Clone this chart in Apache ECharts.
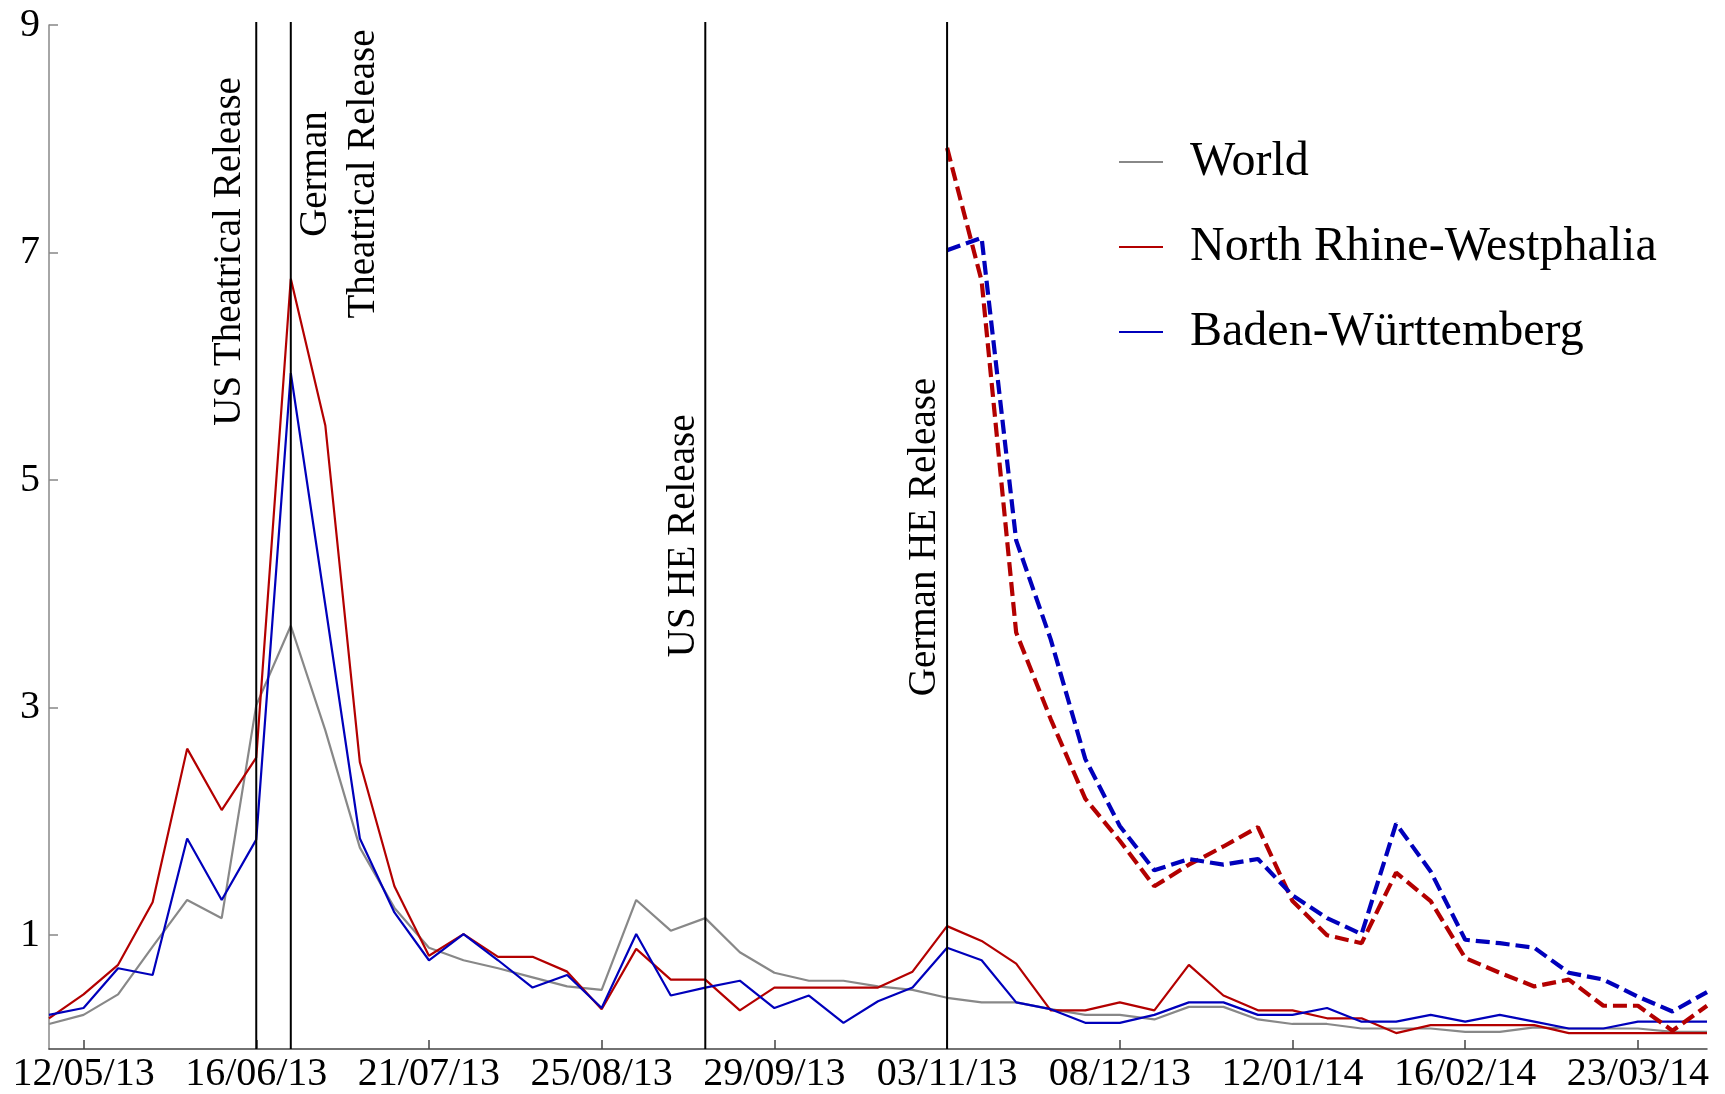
<!DOCTYPE html>
<html>
<head>
<meta charset="utf-8">
<script src="https://cdn.jsdelivr.net/npm/echarts@6/dist/echarts.min.js"></script>
<style>
  html, body { margin: 0; padding: 0; background: #fff; }
  #chart { width: 1725px; height: 1094px; }
</style>
</head>
<body>
<div id="chart"></div>
<script>
// ---------------- DATA ----------------
const categories = [
  '05/05/13','12/05/13','19/05/13','26/05/13','02/06/13','09/06/13','16/06/13','23/06/13','30/06/13','07/07/13',
  '14/07/13','21/07/13','28/07/13','04/08/13','11/08/13','18/08/13','25/08/13','01/09/13','08/09/13','15/09/13',
  '22/09/13','29/09/13','06/10/13','13/10/13','20/10/13','27/10/13','03/11/13','10/11/13','17/11/13','24/11/13',
  '01/12/13','08/12/13','15/12/13','22/12/13','29/12/13','05/01/14','12/01/14','19/01/14','26/01/14','02/02/14',
  '09/02/14','16/02/14','23/02/14','02/03/14','09/03/14','16/03/14','23/03/14','30/03/14','06/04/14'
];

const world = [
  0.22, 0.30, 0.48, 0.90, 1.31, 1.15, 3.02, 3.72, 2.80, 1.77,
  1.24, 0.89, 0.78, 0.71, 0.63, 0.55, 0.52, 1.31, 1.04, 1.15,
  0.85, 0.67, 0.60, 0.60, 0.55, 0.52, 0.45, 0.41, 0.41, 0.35,
  0.30, 0.30, 0.26, 0.37, 0.37, 0.26, 0.22, 0.22, 0.18, 0.18,
  0.18, 0.15, 0.15, 0.19, 0.18, 0.18, 0.18, 0.15, 0.15
];

const northRhineWestphalia = [
  0.27, 0.48, 0.74, 1.29, 2.64, 2.10, 2.56, 6.77, 5.48, 2.52,
  1.43, 0.82, 1.01, 0.81, 0.81, 0.68, 0.35, 0.88, 0.61, 0.61,
  0.34, 0.54, 0.54, 0.54, 0.54, 0.68, 1.08, 0.95, 0.75, 0.34,
  0.34, 0.41, 0.34, 0.74, 0.47, 0.34, 0.34, 0.27, 0.27, 0.14,
  0.21, 0.21, 0.21, 0.21, 0.14, 0.14, 0.14, 0.14, 0.14
];

const badenWuerttemberg = [
  0.30, 0.36, 0.71, 0.65, 1.85, 1.31, 1.84, 5.94, 3.90, 1.85,
  1.20, 0.78, 1.01, 0.78, 0.54, 0.65, 0.36, 1.01, 0.47, 0.54,
  0.60, 0.36, 0.47, 0.23, 0.42, 0.54, 0.89, 0.78, 0.41, 0.35,
  0.23, 0.23, 0.30, 0.41, 0.41, 0.30, 0.30, 0.36, 0.24, 0.24,
  0.30, 0.24, 0.30, 0.24, 0.18, 0.18, 0.24, 0.24, 0.24
];

const northRhineWestphaliaHE = [
  null, null, null, null, null, null, null, null, null, null,
  null, null, null, null, null, null, null, null, null, null,
  null, null, null, null, null, null, 7.92, 6.75, 3.66, 2.90,
  2.20, 1.83, 1.43, 1.62, 1.78, 1.95, 1.30, 1.00, 0.93, 1.55,
  1.30, 0.80, 0.67, 0.55, 0.61, 0.38, 0.38, 0.16, 0.38
];

const badenWuerttembergHE = [
  null, null, null, null, null, null, null, null, null, null,
  null, null, null, null, null, null, null, null, null, null,
  null, null, null, null, null, null, 7.02, 7.13, 4.47, 3.60,
  2.55, 1.96, 1.57, 1.67, 1.62, 1.67, 1.35, 1.15, 1.01, 1.98,
  1.56, 0.96, 0.93, 0.89, 0.67, 0.61, 0.46, 0.33, 0.50
];

const yTickValues = [1, 3, 5, 7, 9];

const eventDates = ['16/06/13', '23/06/13', '15/09/13', '03/11/13'];
const eventLabels = ['US Theatrical Release', 'German\nTheatrical Release', 'US HE Release', 'German HE Release'];

// ---------------- LAYOUT / STYLE ----------------
const FONT = 'Liberation Serif';
const eventLabelLevel = [7.01, 7.69, 4.51, 4.50];   // label centre, in axis units
const eventLabelDx = [-27, 49, -22, -22];           // px from the line

const isLabelIdx = function (index) { return (index - 1) % 5 === 0; };

const chart = echarts.init(document.getElementById('chart'), null, { renderer: 'canvas' });

const option = {
  animation: false,
  backgroundColor: '#ffffff',
  grid: { left: 49, right: 18, top: 25, bottom: 45, containLabel: false },
  legend: {
    data: ['World', 'North Rhine-Westphalia', 'Baden-Württemberg'],
    orient: 'vertical',
    left: 1119,
    top: 138,
    padding: 0,
    itemGap: 37,
    itemWidth: 44,
    itemHeight: 2,
    icon: 'rect',
    selectedMode: false,
    textStyle: {
      fontFamily: FONT,
      fontSize: 48,
      lineHeight: 48,
      color: '#000',
      padding: [0, 0, 0, 22]
    }
  },
  xAxis: {
    type: 'category',
    data: categories,
    boundaryGap: false,
    axisLine: { show: true, lineStyle: { color: '#444', width: 1.5 } },
    axisTick: {
      show: true, inside: true, length: 9,
      interval: isLabelIdx,
      lineStyle: { color: '#444', width: 1.5 }
    },
    axisLabel: {
      interval: isLabelIdx,
      fontFamily: FONT,
      fontSize: 40,
      color: '#000',
      margin: 5
    },
    splitLine: { show: false }
  },
  yAxis: {
    type: 'value',
    min: 0,
    max: 9,
    axisLine: { show: true, lineStyle: { color: '#888', width: 1.5 } },
    axisTick: {
      show: true, inside: true, length: 9,
      customValues: yTickValues,
      lineStyle: { color: '#888', width: 1.5 }
    },
    axisLabel: {
      customValues: yTickValues,
      fontFamily: FONT,
      fontSize: 40,
      color: '#000',
      margin: 9
    },
    splitLine: { show: false }
  },
  series: [
    {
      name: 'World', type: 'line', data: world, symbol: 'none',
      color: '#888888',
      lineStyle: { color: '#888888', width: 2.2 }, z: 2
    },
    {
      name: 'North Rhine-Westphalia', type: 'line', data: northRhineWestphalia, symbol: 'none',
      color: '#b30000',
      lineStyle: { color: '#b30000', width: 2.2 }, z: 3
    },
    {
      name: 'Baden-Württemberg', type: 'line', data: badenWuerttemberg, symbol: 'none',
      color: '#0000bb',
      lineStyle: { color: '#0000bb', width: 2.2 }, z: 4
    },
    {
      name: 'North Rhine-Westphalia', type: 'line', data: northRhineWestphaliaHE, symbol: 'none',
      color: '#b30000', connectNulls: false,
      lineStyle: { color: '#b30000', width: 4.2, type: [14, 6] }, z: 5
    },
    {
      name: 'Baden-Württemberg', type: 'line', data: badenWuerttembergHE, symbol: 'none',
      color: '#0000bb', connectNulls: false,
      lineStyle: { color: '#0000bb', width: 4.2, type: [14, 6] }, z: 6
    },
    {
      name: 'events',
      type: 'custom',
      z: 10,
      silent: true,
      data: eventDates.map(function (d, i) { return [categories.indexOf(d), eventLabelLevel[i]]; }),
      renderItem: function (params, api) {
        const i = params.dataIndex;
        const xi = api.value(0);
        const top = api.coord([xi, 9]);
        const bot = api.coord([xi, 0]);
        const mid = api.coord([xi, api.value(1)]);
        return {
          type: 'group',
          children: [
            {
              type: 'line',
              shape: { x1: bot[0], y1: bot[1], x2: top[0], y2: top[1] - 3 },
              style: { stroke: '#000', lineWidth: 2 }
            },
            {
              type: 'text',
              x: mid[0] + eventLabelDx[i],
              y: mid[1],
              rotation: Math.PI / 2,
              style: {
                text: eventLabels[i],
                fontFamily: FONT,
                fontSize: 39,
                lineHeight: 48,
                fill: '#000',
                align: 'center',
                verticalAlign: 'middle',
                textAlign: 'center',
                textVerticalAlign: 'middle'
              }
            }
          ]
        };
      }
    }
  ]
};

chart.setOption(option);
</script>
</body>
</html>
